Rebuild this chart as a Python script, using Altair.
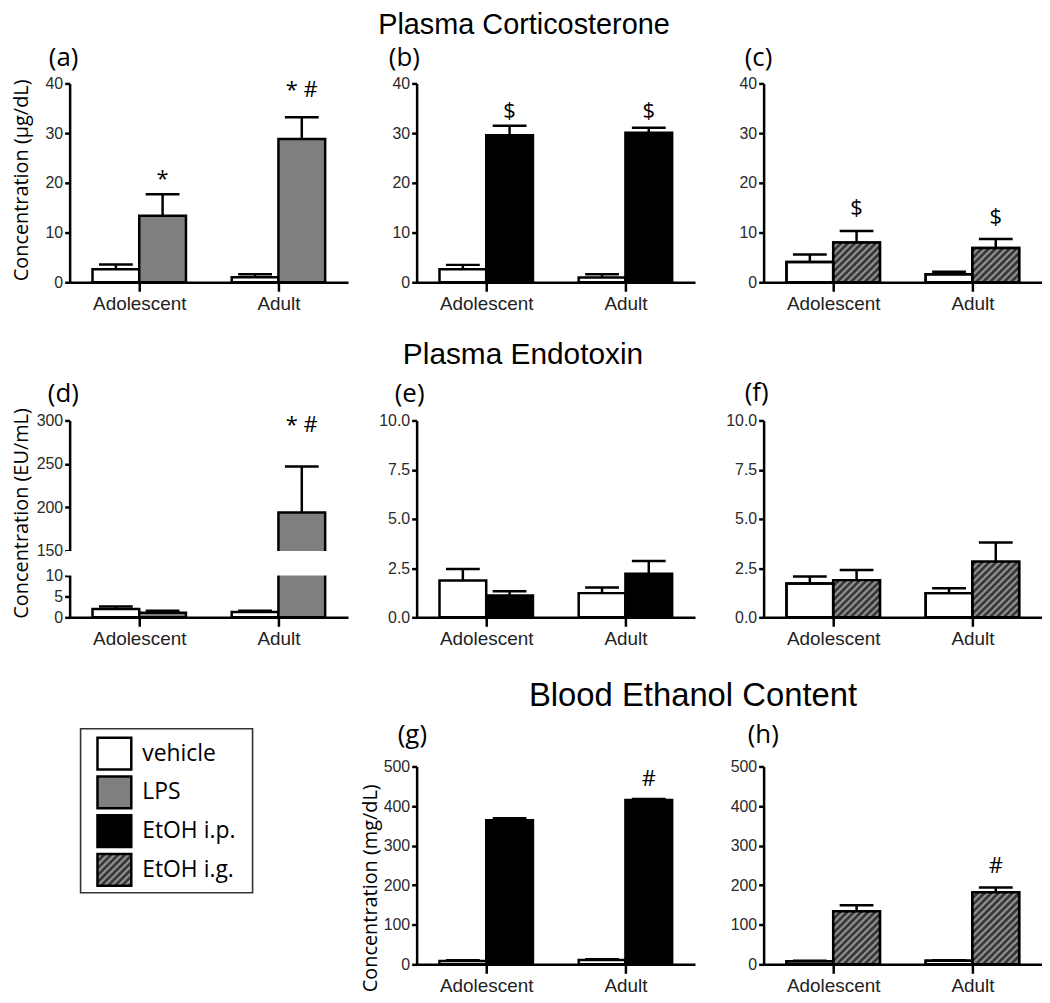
import math
import altair as alt
import pandas as pd

# ---------------- data ----------------
groups = ["Adolescent", "Adult"]
treatments = ["vehicle", "LPS", "EtOH i.p.", "EtOH i.g."]

# (a) Plasma corticosterone, LPS
a_vehicle = [2.6, 1.0]
a_vehicle_sem = [1.0, 0.6]
a_lps = [13.4, 28.8]
a_lps_sem = [4.3, 4.4]
a_marks = ["*", "* #"]
a_marks_y = [19.3, 37.2]

# (b) Plasma corticosterone, EtOH i.p.
b_vehicle = [2.6, 0.95]
b_vehicle_sem = [0.9, 0.65]
b_etoh_ip = [29.6, 30.1]
b_etoh_ip_sem = [1.9, 1.0]
b_marks = ["$", "$"]
b_marks_y = [33.0, 33.0]

# (c) Plasma corticosterone, EtOH i.g.
c_vehicle = [4.1, 1.6]
c_vehicle_sem = [1.5, 0.5]
c_etoh_ig = [8.0, 6.9]
c_etoh_ig_sem = [2.3, 1.8]
c_marks = ["$", "$"]
c_marks_y = [13.5, 11.7]

# (d) Plasma endotoxin, LPS
d_vehicle = [2.0, 1.3]
d_vehicle_sem = [0.6, 0.3]
d_lps = [1.1, 194.0]
d_lps_sem = [0.5, 53.0]
d_marks = ["", "* #"]
d_marks_y = [None, 287.0]

# (e) Plasma endotoxin, EtOH i.p.
e_vehicle = [1.87, 1.23]
e_vehicle_sem = [0.59, 0.29]
e_etoh_ip = [1.11, 2.21]
e_etoh_ip_sem = [0.21, 0.65]

# (f) Plasma endotoxin, EtOH i.g.
f_vehicle = [1.72, 1.23]
f_vehicle_sem = [0.35, 0.25]
f_etoh_ig = [1.89, 2.83]
f_etoh_ig_sem = [0.52, 0.97]

# (g) Blood ethanol, EtOH i.p.
g_vehicle = [8.5, 11.0]
g_vehicle_sem = [1.5, 2.0]
g_etoh_ip = [364.0, 415.0]
g_etoh_ip_sem = [5.0, 3.0]
g_marks = ["", "#"]
g_marks_y = [None, 450.0]

# (h) Blood ethanol, EtOH i.g.
h_vehicle = [8.0, 9.0]
h_vehicle_sem = [1.0, 1.0]
h_etoh_ig = [134.0, 182.0]
h_etoh_ig_sem = [15.0, 12.0]
h_marks = ["", "#"]
h_marks_y = [None, 230.0]

row_titles = ["Plasma Corticosterone", "Plasma Endotoxin", "Blood Ethanol Content"]

# ---------------- styles ----------------
fills = ["#ffffff", "#7f7f7f", "#000000", "#383838"]
HATCH = "#909090"
LINE = 2.5
LABEL_FONT = "Liberation Sans"
TEXT_FONT = "Open Sans"
W = 280
XPX = W / 2.0          # pixels per x unit (two group slots)
BW = 47 / XPX          # bar width in x units
CAP = 17 / XPX         # half width of error-bar cap

x_scale = alt.Scale(domain=[0, 2], nice=False, zero=False)
x_axis = alt.Axis(
    values=[0.5, 1.5],
    labelExpr=f"datum.value < 1 ? '{groups[0]}' : '{groups[1]}'",
    title=None, tickSize=9, labelPadding=3, labelFont=LABEL_FONT,
    labelFontSize=19, labelColor="#222222", labelOverlap=False, labelFlush=False,
)


def hatch(x0, x1, h, step=7.0):
    """diagonal '////' segments clipped to rect [x0,x1] x [0,h] (pixels, y up)"""
    w = x1 - x0
    segs = []
    c = -math.ceil(h / step) * step
    while c < w:
        xs = max(0.0, c)
        xe = min(w, h + c)
        if xe - xs > 0.8:
            segs.append((x0 + xs, xs - c, x0 + xe, xe - c))
        c += step
    return segs


def panel(label, label_xy, vehicle, vehicle_sem, trt, trt_sem, trt_name,
          y_domain, y_range, height, y_values, y_format,
          marks=None, marks_y=None, y_title=None, title_xy=(0, 0),
          row_title=None, row_xy=(0, 0), row_size=30, gap=None):
    rows = []
    for gi, g in enumerate(groups):
        c = gi + 0.5
        for name, m, s, x0 in (("vehicle", vehicle[gi], vehicle_sem[gi], c - BW),
                               (trt_name, trt[gi], trt_sem[gi], c)):
            xc = x0 + BW / 2
            rows.append({"group": g, "treatment": name, "x0": x0, "x1": x0 + BW,
                         "xc": xc, "cl": xc - CAP, "cr": xc + CAP,
                         "mean": m, "top": m + s, "base": 0.0})
    df = pd.DataFrame(rows)

    ys = alt.Scale(domain=y_domain, range=y_range, nice=False, zero=False)
    kw = dict(values=y_values, format=y_format, tickSize=5, labelPadding=2,
              labelFont=LABEL_FONT, labelFontSize=16, labelColor="#2a2a2a")
    if y_title:
        kw.update(title=y_title, titleX=title_xy[0], titleY=title_xy[1], titleAngle=270,
                  titleAlign="center", titleBaseline="bottom", titleFont=TEXT_FONT,
                  titleFontSize=20, titleFontWeight="normal", titleColor="black")
    else:
        kw.update(title=None)
    y_axis = alt.Axis(**kw)

    def X(f):
        return alt.X(f, type="quantitative", scale=x_scale, axis=x_axis)

    def Y(f):
        return alt.Y(f, type="quantitative", scale=ys, axis=y_axis)

    fill = alt.Fill("treatment:N", scale=alt.Scale(domain=treatments, range=fills), legend=None)
    base = alt.Chart(df)
    layers = [
        base.mark_rule(color="black", strokeWidth=LINE).encode(x=X("xc"), y=Y("mean"), y2="top"),
        base.mark_rule(color="black", strokeWidth=LINE).encode(x=X("cl"), x2="cr", y=Y("top")),
        base.mark_rect(stroke="black", strokeWidth=LINE).encode(
            x=X("x0"), x2="x1", y=Y("base"), y2="mean", fill=fill),
    ]
    if trt_name == "EtOH i.g.":
        ppy = (y_range[0] - y_range[-1]) / (y_domain[-1] - y_domain[0])
        segs = []
        for r in rows:
            if r["treatment"] == trt_name:
                for px0, py0, px1, py1 in hatch(r["x0"] * XPX, r["x1"] * XPX, r["mean"] * ppy):
                    segs.append({"hx0": px0 / XPX, "hy0": py0 / ppy,
                                 "hx1": px1 / XPX, "hy1": py1 / ppy})
        layers.append(alt.Chart(pd.DataFrame(segs)).mark_rule(color=HATCH, strokeWidth=2.2).encode(
            x=X("hx0"), x2="hx1", y=Y("hy0"), y2="hy1"))
        layers.append(base.mark_rect(fillOpacity=0, stroke="black", strokeWidth=LINE).encode(
            x=X("x0"), x2="x1", y=Y("base"), y2="mean"))
    if gap:
        gdf = pd.DataFrame({"gx0": [-0.03], "gx1": [2.0], "gy0": [gap[0]], "gy1": [gap[1]]})
        layers.append(alt.Chart(gdf).mark_rect(color="white").encode(
            x=X("gx0"), x2="gx1", y=Y("gy0"), y2="gy1"))
    if marks:
        mdf = pd.DataFrame({"xc": [gi + 0.5 + BW / 2 for gi in range(len(groups))],
                            "my": marks_y, "txt": marks})
        mdf = mdf[mdf["txt"] != ""]
        layers.append(alt.Chart(mdf).mark_text(font=TEXT_FONT, fontSize=22, color="black",
                                               baseline="alphabetic").encode(
            x=X("xc"), y=Y("my"), text="txt:N"))
    layers.append(alt.Chart(pd.DataFrame({"t": [label]})).mark_text(
        font=TEXT_FONT, fontSize=26, color="black", align="left", baseline="middle").encode(
        x=alt.value(label_xy[0]), y=alt.value(label_xy[1]), text="t:N"))
    if row_title:
        layers.append(alt.Chart(pd.DataFrame({"t": [row_title]})).mark_text(
            font=LABEL_FONT, fontSize=row_size, color="black", align="center",
            baseline="alphabetic").encode(
            x=alt.value(row_xy[0]), y=alt.value(row_xy[1]), text="t:N"))
    return alt.layer(*layers).properties(width=W, height=height)


def legend_cell(height):
    lx = alt.Scale(domain=[0, W], range=[0, W], nice=False, zero=False)
    ly = alt.Scale(domain=[0, height], range=[0, height], nice=False, zero=False)

    def LX(f):
        return alt.X(f, type="quantitative", scale=lx, axis=None)

    def LY(f):
        return alt.Y(f, type="quantitative", scale=ly, axis=None)

    box = pd.DataFrame({"x0": [11], "x1": [184], "y0": [-27], "y1": [138]})
    first, step, sw, sh = -2.0, 39.0, 34.0, 32.0
    sx0 = 28.0
    items = pd.DataFrame({
        "treatment": treatments,
        "y0": [first + i * step - sh / 2 for i in range(len(treatments))],
        "y1": [first + i * step + sh / 2 for i in range(len(treatments))],
        "yc": [first + i * step for i in range(len(treatments))],
        "x0": [sx0] * len(treatments), "x1": [sx0 + sw] * len(treatments),
        "tx": [sx0 + sw + 11] * len(treatments),
    })
    fill = alt.Fill("treatment:N", scale=alt.Scale(domain=treatments, range=fills), legend=None)
    segs = []
    r = items.iloc[3]
    for px0, py0, px1, py1 in hatch(r["x0"], r["x1"], sh):
        segs.append({"hx0": px0, "hy0": r["y1"] - py0, "hx1": px1, "hy1": r["y1"] - py1})
    layers = [
        alt.Chart(box).mark_rect(fill="white", stroke="#333333", strokeWidth=1.6).encode(
            x=LX("x0"), x2="x1", y=LY("y0"), y2="y1"),
        alt.Chart(items).mark_rect(strokeWidth=0).encode(
            x=LX("x0"), x2="x1", y=LY("y0"), y2="y1", fill=fill),
        alt.Chart(pd.DataFrame(segs)).mark_rule(color=HATCH, strokeWidth=2.2).encode(
            x=LX("hx0"), x2="hx1", y=LY("hy0"), y2="hy1"),
        alt.Chart(items).mark_rect(fillOpacity=0, stroke="black", strokeWidth=LINE).encode(
            x=LX("x0"), x2="x1", y=LY("y0"), y2="y1"),
        alt.Chart(items).mark_text(font=TEXT_FONT, fontSize=23, color="black", align="left",
                                   baseline="middle").encode(
            x=LX("tx"), y=LY("yc"), text="treatment:N"),
    ]
    return alt.layer(*layers).properties(width=W, height=height)


H1, H2, H3 = 200, 198, 210
r1 = [H1, 0]
r2 = [H2, 0]
r3 = [H3, 11]
cort_ticks = [0, 10, 20, 30, 40]
endo_ticks = [0, 2.5, 5, 7.5, 10]
bec_ticks = [0, 100, 200, 300, 400, 500]

pa = panel("(a)", (-21, -26), a_vehicle, a_vehicle_sem, a_lps, a_lps_sem, "LPS",
           [0, 40], r1, H1, cort_ticks, "d", a_marks, a_marks_y,
           y_title="Concentration (µg/dL)", title_xy=(-38, 97))
pb = panel("(b)", (-28, -26), b_vehicle, b_vehicle_sem, b_etoh_ip, b_etoh_ip_sem, "EtOH i.p.",
           [0, 40], r1, H1, cort_ticks, "d", b_marks, b_marks_y,
           row_title=row_titles[0], row_xy=(108, -50), row_size=29)
pc = panel("(c)", (-19, -26), c_vehicle, c_vehicle_sem, c_etoh_ig, c_etoh_ig_sem, "EtOH i.g.",
           [0, 40], r1, H1, cort_ticks, "d", c_marks, c_marks_y)
pd_ = panel("(d)", (-22, -27), d_vehicle, d_vehicle_sem, d_lps, d_lps_sem, "LPS",
            [0, 10, 150, 300], [H2, 156, 131, 0], H2, [0, 5, 10, 150, 200, 250, 300], "d",
            d_marks, d_marks_y, y_title="Concentration (EU/mL)", title_xy=(-38, 93),
            gap=(10.35, 148.5))
pe = panel("(e)", (-22, -27), e_vehicle, e_vehicle_sem, e_etoh_ip, e_etoh_ip_sem, "EtOH i.p.",
           [0, 10], r2, H2, endo_ticks, ".1f",
           row_title=row_titles[1], row_xy=(107, -57), row_size=30)
pf = panel("(f)", (-19, -28), f_vehicle, f_vehicle_sem, f_etoh_ig, f_etoh_ig_sem, "EtOH i.g.",
           [0, 10], r2, H2, endo_ticks, ".1f")
pg = panel("(g)", (-19, -21), g_vehicle, g_vehicle_sem, g_etoh_ip, g_etoh_ip_sem, "EtOH i.p.",
           [0, 500], r3, H3, bec_ticks, "d", g_marks, g_marks_y,
           y_title="Concentration (mg/dL)", title_xy=(-36, 133),
           row_title=row_titles[2], row_xy=(278, -50), row_size=33)
ph = panel("(h)", (-16, -21), h_vehicle, h_vehicle_sem, h_etoh_ig, h_etoh_ig_sem, "EtOH i.g.",
           [0, 500], r3, H3, bec_ticks, "d", h_marks, h_marks_y)
leg = legend_cell(H3)

chart = alt.concat(
    pa, pb, pc, pd_, pe, pf, leg, pg, ph,
    columns=3, spacing={"row": 139, "column": 69}, bounds="flush",
).properties(
    padding={"left": 3, "top": 0, "right": 0, "bottom": 0}, background="white",
).configure_view(stroke=None).configure_axis(
    grid=False, domainColor="black", domainWidth=LINE, tickColor="black", tickWidth=LINE,
)

chart.save("out.html", embed_options={"renderer": "svg", "actions": False})
